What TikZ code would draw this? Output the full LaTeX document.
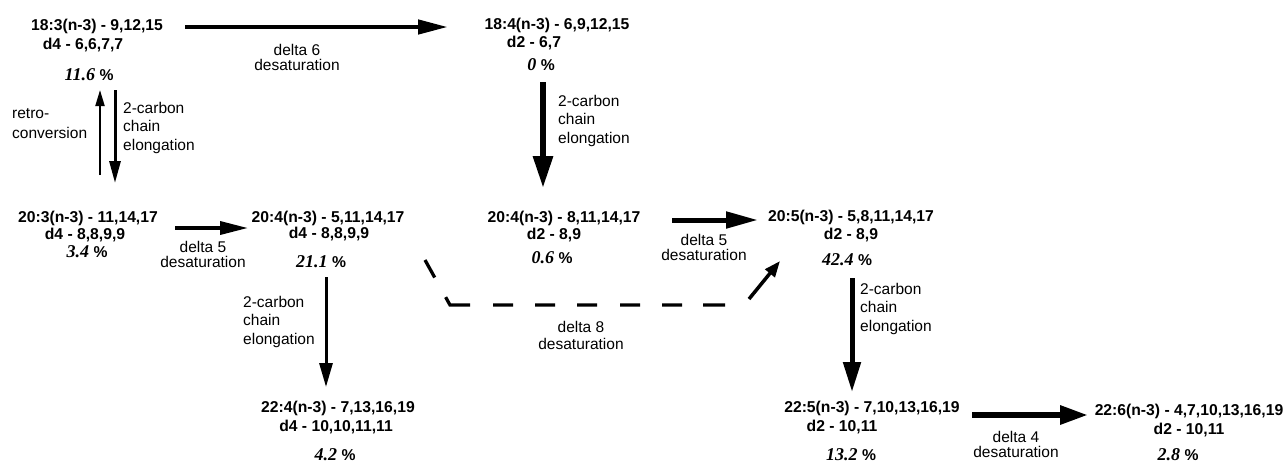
\documentclass[tikz,border=0pt]{standalone}
\usepackage{fontspec}
\usetikzlibrary{arrows.meta}
\newfontfamily\LSans{Liberation Sans}
\newfontfamily\LSerif{Liberation Serif}
\newcommand\formfont{\LSans\bfseries\fontsize{15.7}{18}\selectfont}
\newcommand\labfont{\LSans\fontsize{15.5}{18.5}\selectfont}
\newcommand\dlabfont{\LSans\fontsize{15.5}{15.5}\selectfont}
\newcommand\pcval[1]{{\LSerif\bfseries\itshape\fontsize{18}{20}\selectfont #1 }{\LSans\bfseries\fontsize{15.7}{18}\selectfont\%}}
\tikzset{
  fm/.style={font=\formfont, inner sep=0pt},
  pc/.style={inner sep=0pt},
  lab/.style={font=\labfont, inner sep=0pt, align=left, anchor=north west},
  dlab/.style={font=\dlabfont, inner sep=0pt, align=center, anchor=north},
  arw/.style n args={3}{line width=#1pt, -{Triangle[length=#2pt,width=#3pt]}},
  dsh/.style={line width=3.3pt, dash pattern=on 20pt off 22.5pt on 29pt off 23pt on 20pt off 22pt on 20pt off 22pt on 20pt off 23pt on 20pt off 22pt on 20pt off 21pt on 22pt off 200pt}
}
\begin{document}
\begin{tikzpicture}[x=1pt,y=-1pt]
\useasboundingbox (0,0) rectangle (1287,467);
% species
\node[fm] (a1) at (97,26) {18:3(n-3) - 9,12,15};
\node[fm] (a2) at (83,45) {d4 - 6,6,7,7};
\node[pc] (a3) at (89,75) {\pcval{11.6}};
\node[fm] (b1) at (557,25) {18:4(n-3) - 6,9,12,15};
\node[fm] (b2) at (534,43) {d2 - 6,7};
\node[pc] (b3) at (541,65) {\pcval{0}};
\node[fm] (c1) at (88,218) {20:3(n-3) - 11,14,17};
\node[fm] (c2) at (85,235) {d4 - 8,8,9,9};
\node[pc] (c3) at (87,252) {\pcval{3.4}};
\node[fm] (d1) at (328,218) {20:4(n-3) - 5,11,14,17};
\node[fm] (d2) at (329,234) {d4 - 8,8,9,9};
\node[pc] (d3) at (321,262) {\pcval{21.1}};
\node[fm] (e1) at (564,218) {20:4(n-3) - 8,11,14,17};
\node[fm] (e2) at (554,235) {d2 - 8,9};
\node[pc] (e3) at (552,258) {\pcval{0.6}};
\node[fm] (f1) at (851,217) {20:5(n-3) - 5,8,11,14,17};
\node[fm] (f2) at (851,235) {d2 - 8,9};
\node[pc] (f3) at (847,260) {\pcval{42.4}};
\node[fm] (g1) at (338,408) {22:4(n-3) - 7,13,16,19};
\node[fm] (g2) at (336,427) {d4 - 10,10,11,11};
\node[pc] (g3) at (335,455) {\pcval{4.2}};
\node[fm] (h1) at (872,408) {22:5(n-3) - 7,10,13,16,19};
\node[fm] (h2) at (842,427) {d2 - 10,11};
\node[pc] (h3) at (851,455) {\pcval{13.2}};
\node[fm] (i1) at (1189,411) {22:6(n-3) - 4,7,10,13,16,19};
\node[fm] (i2) at (1189,430) {d2 - 10,11};
\node[pc] (i3) at (1178,455) {\pcval{2.8}};
% labels
\node[dlab] (l6) at (297,44) {delta 6\\desaturation};
\node[lab, font={\LSans\fontsize{15.5}{20}\selectfont}] (lr) at (12,108) {retro-\\conversion};
\node[lab] (le1) at (123,102) {2-carbon\\chain\\elongation};
\node[lab] (le2) at (558,95) {2-carbon\\chain\\elongation};
\node[dlab] (l5a) at (203,241) {delta 5\\desaturation};
\node[lab] (le3) at (243,296) {2-carbon\\chain\\elongation};
\node[dlab] (l5b) at (704,234) {delta 5\\desaturation};
\node[dlab, font={\LSans\fontsize{15.5}{17}\selectfont}] (l8) at (581,321) {delta 8\\desaturation};
\node[lab] (le4) at (860,283) {2-carbon\\chain\\elongation};
\node[dlab] (l4) at (1016,431) {delta 4\\desaturation};
% connector end points
\coordinate (p1s) at (185,27);  \coordinate (p1e) at (448,27);
\coordinate (p2s) at (100,175); \coordinate (p2e) at (100,90);
\coordinate (p3s) at (115,90);  \coordinate (p3e) at (115,183);
\coordinate (p4s) at (543,82);  \coordinate (p4e) at (543,188);
\coordinate (p5s) at (175,228); \coordinate (p5e) at (248,228);
\coordinate (p6s) at (326,277); \coordinate (p6e) at (326,387);
\coordinate (p7s) at (672,220); \coordinate (p7e) at (758,220);
\coordinate (p8s) at (852,278); \coordinate (p8e) at (852,392);
\coordinate (p9s) at (972,415); \coordinate (p9e) at (1088,415);
\coordinate (q1) at (425,260); \coordinate (q2) at (450,305); \coordinate (q3) at (725,305);
\coordinate (q4) at (749,299); \coordinate (q5) at (780,261);
% connectors
\draw[arw={4.5}{30}{14}] (p1s) -- (p1e);
\draw[arw={2}{16}{9}] (p2s) -- (p2e);
\draw[arw={3}{22}{11}] (p3s) -- (p3e);
\draw[arw={6}{32}{19}] (p4s) -- (p4e);
\draw[arw={3.5}{28}{13}] (p5s) -- (p5e);
\draw[arw={3}{24}{13}] (p6s) -- (p6e);
\draw[arw={5}{32}{16}] (p7s) -- (p7e);
\draw[arw={5}{30}{17}] (p8s) -- (p8e);
\draw[arw={6}{28}{18}] (p9s) -- (p9e);
\draw[dsh] (q1) -- (q2) -- (q3);
\draw[arw={3.5}{16}{12}] (q4) -- (q5);
\end{tikzpicture}
\end{document}
